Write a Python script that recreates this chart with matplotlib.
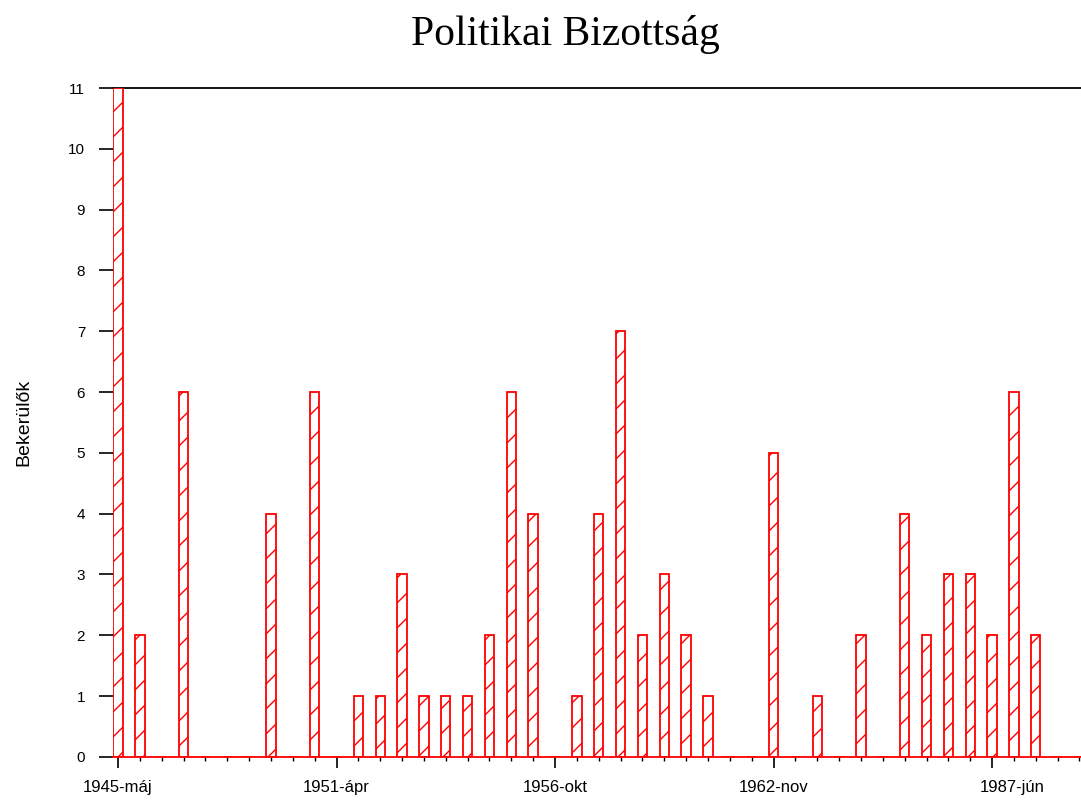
import numpy as np
import matplotlib.pyplot as plt
import matplotlib.transforms as mtransforms
import matplotlib.backend_bases as bb

plt.rcParams['hatch.color'] = 'red'
plt.rcParams['hatch.linewidth'] = 1.0
plt.rcParams['font.family'] = 'Liberation Sans'

# hatch spacing closer to the original (default density is 6)
_orig_hatch = bb.GraphicsContextBase.get_hatch_path
bb.GraphicsContextBase.get_hatch_path = lambda self, density=8: _orig_hatch(self, density)

n_cats = 45
# category index -> number of newcomers (all other categories are zero)
bar_idx = [0, 1, 3, 7, 9, 11, 12, 13, 14, 15, 16, 17, 18, 19, 21, 22, 23, 24, 25, 26, 27,
           30, 32, 34, 36, 37, 38, 39, 40, 41, 42]
bar_val = [11, 2, 6, 4, 6, 1, 1, 3, 1, 1, 1, 2, 6, 4, 1, 4, 7, 2, 3, 2, 1,
           5, 1, 2, 4, 2, 3, 3, 2, 6, 2]
tick_pos = [0, 10, 20, 30, 40]
tick_labels = ["1945-máj", "1951-ápr", "1956-okt", "1962-nov", "1987-jún"]

values = np.zeros(n_cats)
values[bar_idx] = bar_val

fig = plt.figure(figsize=(10.81, 8.0), dpi=100)
ax = fig.add_axes([0.1045, 0.054, 0.8955, 0.836])

ax.bar(np.arange(n_cats), values, width=0.43, facecolor='white', edgecolor='red',
       hatch='/', linewidth=1.3, zorder=3)

ax.set_xlim(-0.23, 44.07)
ax.set_ylim(0, 11)
ax.set_yticks(range(12))
ax.tick_params(axis='y', length=10, width=1.2, pad=10, labelsize=11)
ax.set_xticks(tick_pos)
ax.set_xticklabels(tick_labels)
ax.set_xticks(np.arange(n_cats), minor=True)
ax.tick_params(axis='x', which='major', length=8, width=1.2, pad=9, labelsize=12)
ax.tick_params(axis='x', which='minor', length=3, width=1.0)

# last label sits a little to the right of its tick in the original
lbl = ax.get_xticklabels()[-1]
lbl.set_transform(lbl.get_transform() + mtransforms.ScaledTranslation(0.2, 0, fig.dpi_scale_trans))

ax.spines['left'].set_visible(False)
ax.spines['right'].set_visible(False)
ax.spines['top'].set_color('black')
ax.spines['top'].set_linewidth(1.3)
ax.spines['bottom'].set_color('red')
ax.spines['bottom'].set_linewidth(1.3)
ax.spines['bottom'].set_zorder(4)

ax.set_ylabel("Bekerülők", fontsize=14, labelpad=26)
fig.text(0.523, 0.957, "Politikai Bizottság", fontsize=30, family='Liberation Serif',
         ha='center', va='center')

fig.savefig("out.png", dpi=100)
